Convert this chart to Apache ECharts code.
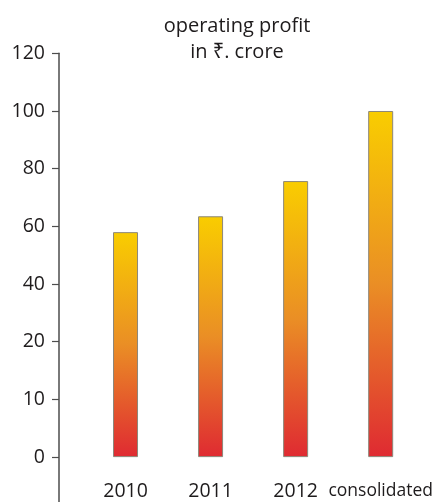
<!DOCTYPE html>
<html>
<head>
<meta charset="utf-8">
<script src="https://cdn.jsdelivr.net/npm/echarts@6/dist/echarts.min.js"></script>
<style>html,body{margin:0;padding:0;background:#fff}#c{width:438px;height:502px}</style>
</head>
<body>
<div id="c"></div>
<script>
// Data
var categories = ['2010', '2011', '2012', 'consolidated'];
var profitValues = [58, 63.5, 75.7, 100];
var tickLabels = [0, 10, 20, 40, 60, 80, 100, 120];
var titleText = 'operating profit\nin ₹. crore';

// The original axis spaces its tick labels evenly even though they are not evenly spaced in value;
// map values onto that axis piecewise-linearly (position = tick index).
function toAxisPos(v) {
  for (var i = 0; i < tickLabels.length - 1; i++) {
    var a = tickLabels[i], b = tickLabels[i + 1];
    if (v <= b) return i + (v - a) / (b - a);
  }
  return tickLabels.length - 1;
}

var FONT = '"Open Sans", "Noto Sans", "DejaVu Sans", sans-serif';
var TXT = '#1e1b1c';
var chart = echarts.init(document.getElementById('c'), null, {renderer: 'canvas'});
chart.setOption({
  animation: false,
  backgroundColor: '#ffffff',
  title: {
    text: titleText,
    left: 237,
    top: 13,
    textAlign: 'center',
    padding: 0,
    textStyle: {fontFamily: FONT, fontSize: 20, fontWeight: 'normal', color: TXT, lineHeight: 26}
  },
  grid: {left: 83, top: 53.3, width: 340.2, height: 461.5, containLabel: false, outerBoundsMode: 'none'},
  xAxis: {
    type: 'category',
    data: categories,
    offset: -42,
    axisLine: {show: false},
    axisTick: {show: false},
    axisLabel: {
      margin: 9,
      interval: 0,
      hideOverlap: false,
      fontFamily: FONT,
      color: TXT,
      formatter: function (v) { return v === 'consolidated' ? '{s|' + v + '}' : '{b|' + v + '}'; },
      rich: {
        b: {fontFamily: FONT, fontSize: 19.5, color: TXT},
        s: {fontFamily: FONT, fontSize: 17.5, color: TXT}
      }
    }
  },
  yAxis: {
    type: 'value',
    min: -1,
    max: tickLabels.length - 1,
    interval: 1,
    offset: 24,
    splitLine: {show: false},
    axisLine: {show: true, lineStyle: {color: '#4d4d4d', width: 1.5}},
    axisTick: {show: true, length: 7, lineStyle: {color: '#4d4d4d', width: 1.2}},
    axisLabel: {
      margin: 14,
      fontFamily: FONT,
      fontSize: 19.5,
      color: TXT,
      formatter: function (v) { return v < 0 ? '' : String(tickLabels[Math.round(v)]); }
    }
  },
  series: [{
    type: 'bar',
    barWidth: 25,
    data: profitValues.map(toAxisPos),
    itemStyle: {
      borderColor: '#8c877a',
      borderWidth: 1,
      color: new echarts.graphic.LinearGradient(0, 0, 0, 1, [
        {offset: 0, color: '#f9cd00'},
        {offset: 0.5, color: '#ea8e25'},
        {offset: 1, color: '#df2a32'}
      ])
    }
  }]
});
</script>
</body>
</html>
